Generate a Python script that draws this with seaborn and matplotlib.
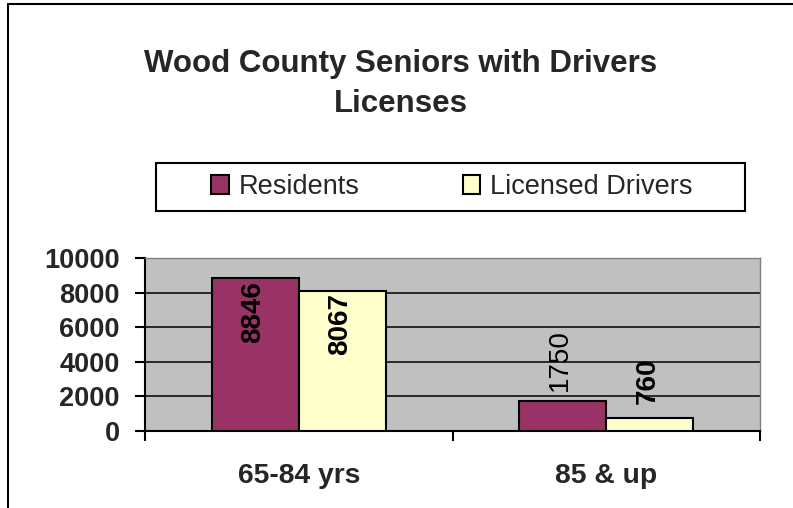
import matplotlib
matplotlib.use("Agg")
import matplotlib.pyplot as plt
from matplotlib.patches import Patch, Rectangle
from matplotlib.lines import Line2D
import seaborn as sns
import pandas as pd

# ---- data ----
categories = ["65-84 yrs", "85 & up"]
series_names = ["Residents", "Licensed Drivers"]
residents = [8846, 1750]
licensed = [8067, 760]
y_ticks = [0, 2000, 4000, 6000, 8000, 10000]
title = "Wood County Seniors with Drivers\nLicenses"

colors = ["#993366", "#FFFFCC"]

df = pd.DataFrame({
    "category": categories * 2,
    "series": [series_names[0]] * len(categories) + [series_names[1]] * len(categories),
    "value": residents + licensed,
})

sns.set_style("white")
plt.rcParams["font.family"] = ["Liberation Sans", "DejaVu Sans"]

W, H = 793, 508
fig = plt.figure(figsize=(W / 100, H / 100), dpi=100)
fig.patch.set_facecolor("white")

def fx(px):
    return px / W

def fy(py):
    return 1 - py / H

ax = fig.add_axes([fx(145), fy(431), fx(760) - fx(145), fy(258) - fy(431)])
ax.set_facecolor("#C0C0C0")

sns.barplot(data=df, x="category", y="value", hue="series", order=categories,
            hue_order=series_names, palette=colors, width=0.566,
            edgecolor="black", linewidth=1.5, saturation=1, ax=ax, zorder=3)
if ax.legend_ is not None:
    ax.legend_.remove()

ax.set_xlim(-0.5, 1.5)
ax.set_ylim(0, 10000)
ax.set_xlabel("")
ax.set_ylabel("")

# gridlines
ax.yaxis.grid(True, color="black", linewidth=1.1, zorder=1)
ax.xaxis.grid(False)
ax.set_axisbelow(True)

# spines
for s in ["left", "bottom"]:
    ax.spines[s].set_color("black")
    ax.spines[s].set_linewidth(1.5)
    ax.spines[s].set_visible(True)
for s in ["top", "right"]:
    ax.spines[s].set_color("#808080")
    ax.spines[s].set_linewidth(1.0)
    ax.spines[s].set_visible(True)

# ticks
fs = 19.5
ax.set_yticks(y_ticks)
ax.set_yticklabels([str(v) for v in y_ticks], fontsize=fs, fontweight="bold")
ax.tick_params(axis="y", which="major", direction="out", length=7.2, width=1.5,
               color="black", pad=11, left=True)
ax.set_xticks(range(len(categories)))
ax.set_xticklabels(categories, fontsize=20.3, fontweight="bold")
ax.tick_params(axis="x", which="major", length=0, pad=23)
ax.set_xticks([-0.5, 0.5, 1.5], minor=True)
ax.tick_params(axis="x", which="minor", direction="out", length=7.2, width=1.5,
               color="black", bottom=True)

# value labels
label_specs = {
    (0, 0): ("inside", "bold", 2),
    (1, 0): ("inside", "bold", 1),
    (0, 1): ("above", "normal", 7),
    (1, 1): ("above", "bold", 10),
}
for si, cont in enumerate(ax.containers):
    vals = residents if si == 0 else licensed
    for ci, bar in enumerate(cont):
        xc = bar.get_x() + bar.get_width() / 2
        v = vals[ci]
        where, weight, off = label_specs[(si, ci)]
        if where == "inside":
            ax.annotate(str(v), xy=(xc, v), xytext=(-1.2, -off), textcoords="offset points",
                        rotation=90, ha="center", va="top", fontsize=20,
                        fontweight=weight, color="black", zorder=5)
        else:
            ax.annotate(str(v), xy=(xc, v), xytext=(-1.8, off), textcoords="offset points",
                        rotation=90, ha="center", va="bottom", fontsize=20,
                        fontweight=weight, color="black", zorder=5)

# title
fig.text(fx(401), fy(49), title, ha="center", va="top", fontsize=22.5,
         fontweight="bold", linespacing=1.42)

# legend box
fig.patches.append(Rectangle((fx(156), fy(211)), fx(745) - fx(156), fy(163) - fy(211),
                             transform=fig.transFigure, facecolor="white",
                             edgecolor="black", linewidth=1.5, zorder=1))
handles = [Patch(facecolor=c, edgecolor="black", linewidth=1.5) for c in colors]
fig.legend(handles, series_names, loc="center", bbox_to_anchor=(fx(452), fy(187)),
           ncol=2, frameon=False, fontsize=fs, handlelength=0.65, handleheight=0.65,
           handletextpad=0.37, columnspacing=3.8, borderaxespad=0)

# outer frame lines (top and left)
fig.add_artist(Line2D([fx(8), fx(8)], [0, fy(4)], transform=fig.transFigure,
                      color="black", linewidth=1.5))
fig.add_artist(Line2D([fx(8), 1], [fy(4), fy(4)], transform=fig.transFigure,
                      color="black", linewidth=1.5))

fig.savefig("out.png", dpi=100)
